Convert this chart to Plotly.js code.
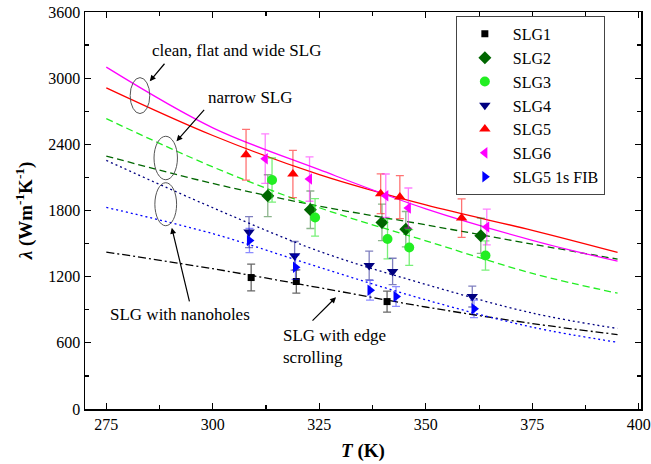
<!DOCTYPE html>
<html><head><meta charset="utf-8">
<script src="https://cdn.plot.ly/plotly-3.0.1.min.js"></script>
<style>html,body{margin:0;padding:0;background:#fff}#chart{width:651px;height:464px}</style>
</head><body><div id="chart"></div>
<script>
// Fitted curves
const fitT    = [275, 300, 325, 350, 375, 395];
const fitSLG1 = [1423, 1272, 1100, 925, 775, 675];
const fitSLG2 = [2294, 2045, 1840, 1670, 1495, 1359];
const fitSLG3 = [2633, 2195, 1825, 1525, 1230, 1050];
const fitSLG4 = [2254, 1825, 1430, 1130, 870, 730];
const fitSLG5 = [2912, 2480, 2125, 1850, 1620, 1420];
const fitSLG6 = [3100, 2550, 2170, 1815, 1530, 1340];
const fitFIB  = [1828, 1590, 1285, 990, 742, 605];

// Measured points
const slg1T = [309.0, 319.6, 340.9];
const slg1L = [1192, 1156, 974];
const slg1E = [121, 106, 95];
const slg2T = [312.9, 322.9, 339.7, 345.3, 362.9];
const slg2L = [1934, 1807, 1692, 1631, 1571];
const slg2E = [190, 170, 166, 160, 159];
const slg3T = [313.9, 324.0, 341.0, 346.1, 364.0];
const slg3L = [2076, 1737, 1541, 1465, 1392];
const slg3E = [200, 170, 180, 162, 132];
const slg4T = [308.5, 319.2, 336.7, 342.2, 360.9];
const slg4L = [1604, 1389, 1301, 1247, 1020];
const slg4E = [140, 130, 130, 120, 95];
const slg5T = [307.8, 318.8, 339.4, 343.9, 358.4];
const slg5L = [2306, 2131, 1952, 1922, 1731];
const slg5E = [230, 215, 180, 195, 175];
const slg6T = [312.3, 322.7, 340.6, 345.9, 364.3];
const slg6L = [2270, 2085, 1934, 1822, 1650];
const slg6E = [224, 201, 197, 182, 162];
const fibT  = [308.6, 319.4, 336.9, 343.0, 361.3];
const fibL  = [1528, 1286, 1077, 1020, 908];
const fibE  = [110, 110, 90, 90, 80];

const names = ['SLG1','SLG2','SLG3','SLG4','SLG5','SLG6','SLG5 1s FIB'];

const FONT = 'Liberation Serif';

function fit(y, color, dash) {
  return {x: fitT, y: y, mode: 'lines', line: {color: color, width: 1.3, dash: dash, shape: 'spline'},
          showlegend: false, hoverinfo: 'skip'};
}
function pts(name, x, y, e, color, symbol, size, ecolor) {
  return {x: x, y: y, name: name, mode: 'markers', type: 'scatter',
          marker: {color: color, symbol: symbol, size: size},
          error_y: {type: 'data', array: e, visible: true, color: ecolor, thickness: 1.3, width: 4}};
}

const data = [
  fit(fitSLG1, '#000000', '8px,3px,2px,3px'),
  fit(fitSLG2, '#006600', '7px,4px'),
  fit(fitSLG3, '#22ee22', '7px,4px'),
  fit(fitSLG4, '#000080', '2px,3px'),
  fit(fitSLG5, '#ff0000', 'solid'),
  fit(fitSLG6, '#ff00ff', 'solid'),
  fit(fitFIB,  '#0000ff', '2px,3px'),
  pts(names[0], slg1T, slg1L, slg1E, '#000000', 'square', 7, 'rgba(0,0,0,0.6)'),
  pts(names[1], slg2T, slg2L, slg2E, '#006600', 'diamond', 10, 'rgba(0,90,0,0.45)'),
  pts(names[2], slg3T, slg3L, slg3E, '#22ee22', 'circle', 10, 'rgba(30,230,30,0.6)'),
  pts(names[3], slg4T, slg4L, slg4E, '#000080', 'triangle-down', 10, 'rgba(0,0,128,0.5)'),
  pts(names[4], slg5T, slg5L, slg5E, '#ff0000', 'triangle-up', 10, 'rgba(255,0,0,0.55)'),
  pts(names[5], slg6T, slg6L, slg6E, '#ff00ff', 'triangle-left', 10, 'rgba(255,0,255,0.5)'),
  pts(names[6], fibT, fibL, fibE, '#0000ff', 'triangle-right', 10, 'rgba(0,0,255,0.45)')
];

const axisCommon = {
  showline: true, linecolor: '#000', linewidth: 1.5, mirror: 'ticks',
  ticks: 'inside', ticklen: 6, tickwidth: 1.2, tickcolor: '#000',
  showgrid: false, zeroline: false,
  tickfont: {family: FONT, size: 16, color: '#000'}
};

const layout = {
  width: 651, height: 464,
  margin: {l: 85, r: 10, t: 12, b: 55},
  paper_bgcolor: '#fff', plot_bgcolor: '#fff',
  font: {family: FONT, color: '#000'},
  xaxis: Object.assign({}, axisCommon, {
    range: [270, 400.5], tick0: 275, dtick: 25,
    minor: {dtick: 12.5, tick0: 275, ticks: 'inside', ticklen: 4, tickcolor: '#000', tickwidth: 1.2},
    title: {text: '<b><i>T</i> (K)</b>', font: {family: FONT, size: 19, color: '#000'}, standoff: 12}
  }),
  yaxis: Object.assign({}, axisCommon, {
    range: [0, 3600], tick0: 0, dtick: 600,
    minor: {dtick: 300, ticks: 'inside', ticklen: 4, tickcolor: '#000', tickwidth: 1.2},
    title: {text: '<b><i>λ</i> (Wm<sup>-1</sup>K<sup>-1</sup>)</b>', font: {family: FONT, size: 19, color: '#000'}, standoff: 10}
  }),
  legend: {
    x: 0.667, y: 0.99, xanchor: 'left', yanchor: 'top',
    bordercolor: '#444', borderwidth: 1, bgcolor: '#fff',
    font: {family: FONT, size: 16, color: '#000'},
    itemwidth: 46, tracegroupgap: 0
  },
  shapes: [
    {type: 'circle', xref: 'x', yref: 'y', x0: 280.6, x1: 285.2, y0: 2679, y1: 3005, line: {color: '#555', width: 1}},
    {type: 'circle', xref: 'x', yref: 'y', x0: 286.2, x1: 291.7, y0: 2079, y1: 2473, line: {color: '#555', width: 1}},
    {type: 'circle', xref: 'x', yref: 'y', x0: 286.4, x1: 291.5, y0: 1662, y1: 2052, line: {color: '#555', width: 1}}
  ],
  annotations: [
    {x: 305.6, y: 3253, xref: 'x', yref: 'y', text: 'clean, flat and wide SLG', showarrow: false, font: {family: FONT, size: 17}},
    {x: 308.8, y: 2821, xref: 'x', yref: 'y', text: 'narrow SLG', showarrow: false, font: {family: FONT, size: 17}},
    {x: 292.4, y: 853, xref: 'x', yref: 'y', text: 'SLG with nanoholes', showarrow: false, font: {family: FONT, size: 17}},
    {x: 316.0, y: 566, xref: 'x', yref: 'y', text: 'SLG with edge<br>scrolling', showarrow: false, xanchor: 'left', align: 'left', font: {family: FONT, size: 17}},
    {x: 285.2, y: 2972, xref: 'x', yref: 'y', text: '', showarrow: true, ax: 16, ay: -19, arrowhead: 2, arrowsize: 1, arrowwidth: 1.2, arrowcolor: '#000'},
    {x: 291.47, y: 2427, xref: 'x', yref: 'y', text: '', showarrow: true, ax: 29, ay: -33, arrowhead: 2, arrowsize: 1, arrowwidth: 1.2, arrowcolor: '#000'},
    {x: 290.37, y: 1643, xref: 'x', yref: 'y', text: '', showarrow: true, ax: 18, ay: 75, arrowhead: 2, arrowsize: 1, arrowwidth: 1.2, arrowcolor: '#000'},
    {x: 328.92, y: 1014, xref: 'x', yref: 'y', text: '', showarrow: true, ax: -25, ay: 25, arrowhead: 2, arrowsize: 1, arrowwidth: 1.2, arrowcolor: '#000'}
  ]
};

Plotly.newPlot('chart', data, layout, {staticPlot: true, displayModeBar: false});
</script>
</body></html>
